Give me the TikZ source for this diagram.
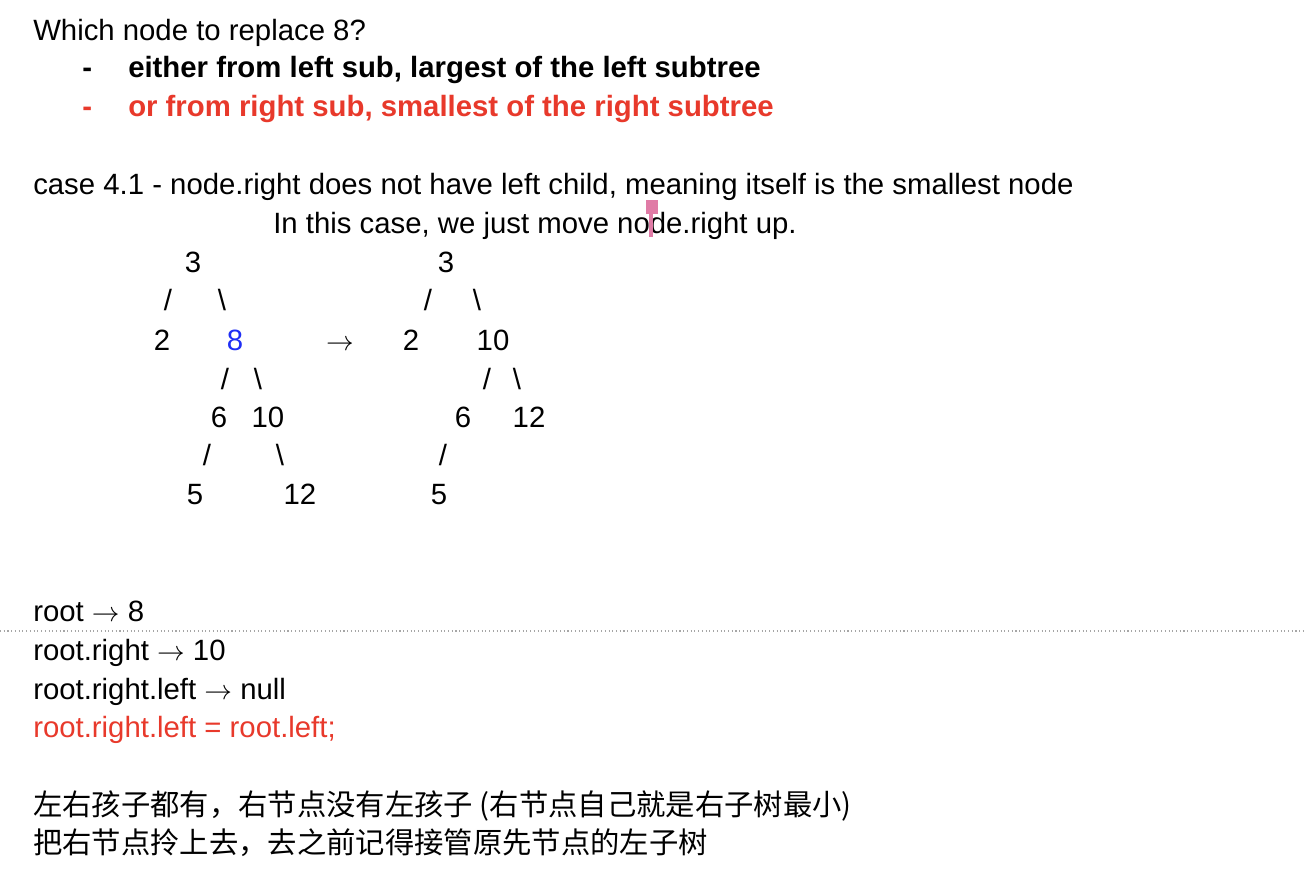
\documentclass[tikz,border=0pt]{standalone}
\usepackage{fontspec}
\setmainfont{Liberation Sans}
\newfontfamily\cjk{Noto Sans CJK SC}
\definecolor{myred}{HTML}{E8392B}
\definecolor{myblue}{HTML}{1F2EF5}
\definecolor{mypink}{HTML}{E07BA6}
\newcommand{\rarr}{\ensuremath{\rightarrow}}
\begin{document}
\begin{tikzpicture}[x=0.75pt,y=-0.75pt,
  txt/.style={anchor=base west,inner sep=0pt,font=\fontsize{22}{26}\selectfont},
  tn/.style={anchor=base,inner sep=0pt,font=\fontsize{22}{26}\selectfont},
  sl/.style={anchor=center,inner sep=0pt,font=\fontsize{22}{26}\selectfont}]
\useasboundingbox[fill=white] (0,0) rectangle (1304,890);
% header
\node[txt] (l1) at (33,40) {Which node to replace 8?};
\node[txt] (d1) at (82,77) {\bfseries -};
\node[txt] (l2) at (128,77) {\bfseries either from left sub, largest of the left subtree};
\node[txt,text=myred] (d2) at (82,116) {\bfseries -};
\node[txt,text=myred] (l3) at (128,116) {\bfseries or from right sub, smallest of the right subtree};
\node[txt] (l4) at (33,194) {case 4.1 - node.right does not have left child, meaning itself is the smallest node};
\node[txt] (l5) at (273,233) {In this case, we just move node.right up.};
% cursor
\fill[mypink] (646,200) rectangle (658,214);
\fill[mypink] (648.5,200) rectangle (653,237);
% left tree
\node[tn] (a3) at (193,272) {3};
\node[sl] (as1) at (168,300) {/};
\node[sl] (as2) at (222,300) {\textbackslash};
\node[tn] (a2) at (162,350) {2};
\node[tn,text=myblue] (a8) at (235,350) {8};
\node[sl] (as3) at (225,379) {/};
\node[sl] (as4) at (258,379) {\textbackslash};
\node[tn] (a6) at (219,427) {6};
\node[tn] (a10) at (268,427) {10};
\node[sl] (as5) at (207,455) {/};
\node[sl] (as6) at (280,455) {\textbackslash};
\node[tn] (a5) at (195,504) {5};
\node[tn] (a12) at (300,504) {12};
% arrow
\node[tn] (arr) at (340,350) {\rarr};
% right tree
\node[tn] (b3) at (446,272) {3};
\node[sl] (bs1) at (428,300) {/};
\node[sl] (bs2) at (477,300) {\textbackslash};
\node[tn] (b2) at (411,350) {2};
\node[tn] (b10) at (493,350) {10};
\node[sl] (bs3) at (487,379) {/};
\node[sl] (bs4) at (517,379) {\textbackslash};
\node[tn] (b6) at (463,427) {6};
\node[tn] (b12) at (529,427) {12};
\node[sl] (bs5) at (443,455) {/};
\node[tn] (b5) at (439,504) {5};
% code
\node[txt] (c1) at (33,621) {root \rarr{} 8};
\draw[gray!70,dotted,line width=0.8pt] (0,631) -- (1304,631);
\node[txt] (c2) at (33,660) {root.right \rarr{} 10};
\node[txt] (c3) at (33,699) {root.right.left \rarr{} null};
\node[txt,text=myred] (c4) at (33,737) {root.right.left = root.left;};
% chinese
\node[txt,font=\fontsize{22}{26}\cjk] (z1) at (33,815) {左右孩子都有，右节点没有左孩子 (右节点自己就是右子树最小)};
\node[txt,font=\fontsize{22}{26}\cjk] (z2) at (33,853) {把右节点拎上去，去之前记得接管原先节点的左子树};
\end{tikzpicture}
\end{document}
